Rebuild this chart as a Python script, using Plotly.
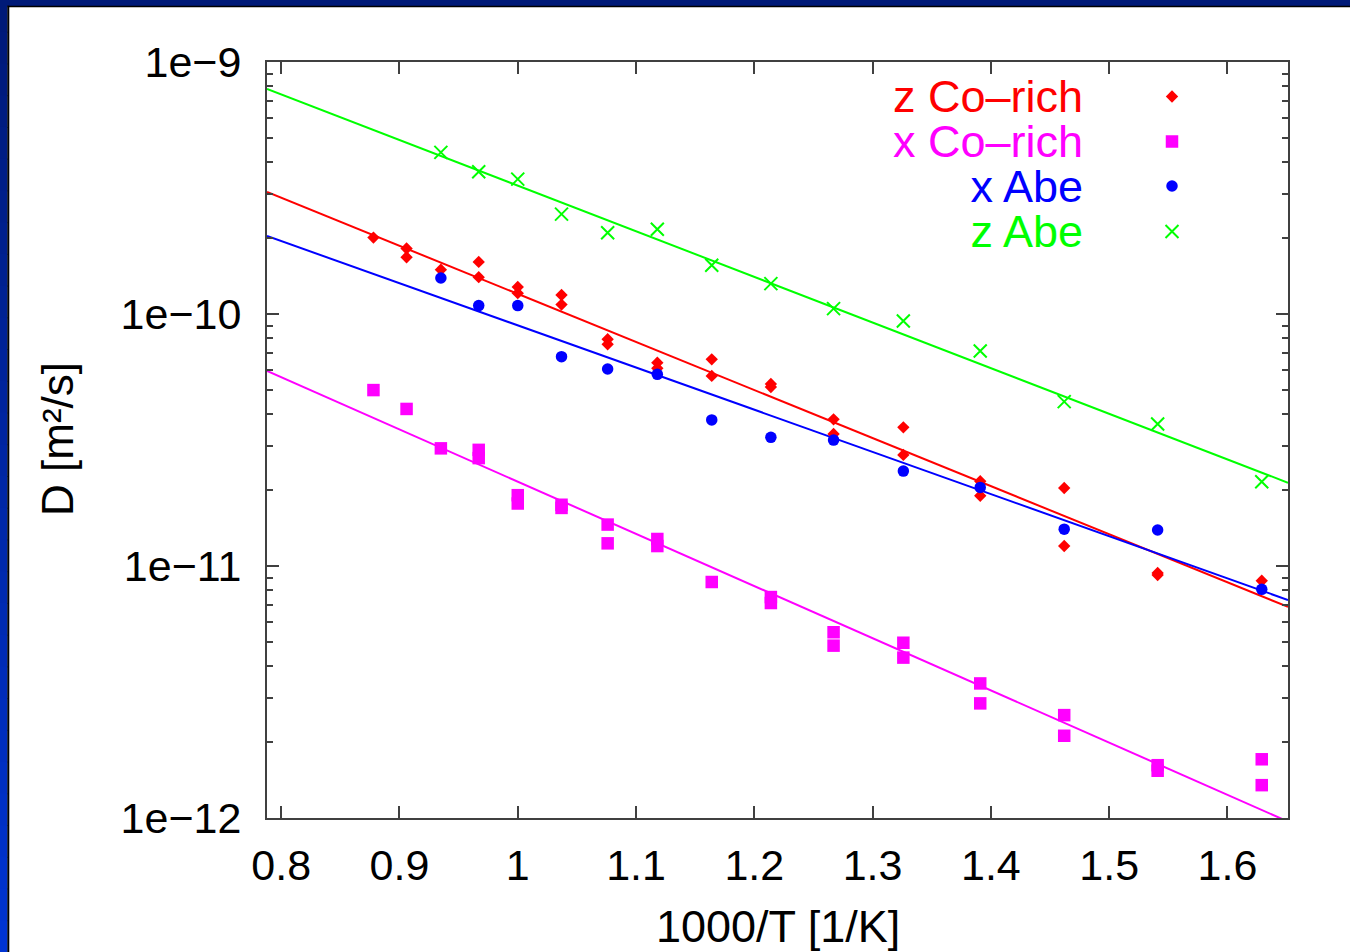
import plotly.graph_objects as go

# ---- measured diffusion coefficients, D in m^2/s versus 1000/T in 1/K ----
z_co_x = [0.878, 0.906, 0.906, 0.935, 0.967, 0.967, 1.0, 1.0, 1.037, 1.037,
          1.076, 1.076, 1.118, 1.118, 1.164, 1.164, 1.214, 1.214, 1.267, 1.267,
          1.326, 1.326, 1.391, 1.391, 1.462, 1.462, 1.541, 1.541, 1.629]
z_co_D = [2.01e-10, 1.82e-10, 1.68e-10, 1.50e-10, 1.61e-10, 1.40e-10, 1.28e-10, 1.21e-10,
          1.19e-10, 1.09e-10, 7.94e-11, 7.58e-11, 6.41e-11, 6.09e-11, 6.61e-11, 5.68e-11,
          5.28e-11, 5.13e-11, 3.82e-11, 3.34e-11, 3.55e-11, 2.76e-11, 2.17e-11, 1.90e-11,
          2.04e-11, 1.20e-11, 9.38e-12, 9.21e-12, 8.74e-12]

x_co_x = [0.878, 0.906, 0.935, 0.967, 0.967, 1.0, 1.0, 1.037, 1.037, 1.076, 1.076,
          1.118, 1.118, 1.164, 1.214, 1.214, 1.267, 1.267, 1.326, 1.326, 1.391, 1.391,
          1.462, 1.462, 1.541, 1.541, 1.629, 1.629]
x_co_D = [4.99e-11, 4.20e-11, 2.93e-11, 2.89e-11, 2.68e-11, 1.91e-11, 1.77e-11, 1.75e-11,
          1.70e-11, 1.46e-11, 1.23e-11, 1.28e-11, 1.20e-11, 8.64e-12, 7.53e-12, 7.13e-12,
          5.46e-12, 4.83e-12, 4.96e-12, 4.33e-12, 3.42e-12, 2.85e-12, 2.56e-12, 2.12e-12,
          1.62e-12, 1.54e-12, 1.71e-12, 1.35e-12]

abe_x = [0.935, 0.967, 1.0, 1.037, 1.076, 1.118, 1.164, 1.214, 1.267, 1.326,
         1.391, 1.462, 1.541, 1.629]
x_abe_D = [1.39e-10, 1.08e-10, 1.08e-10, 6.77e-11, 6.05e-11, 5.76e-11, 3.80e-11,
           3.24e-11, 3.16e-11, 2.38e-11, 2.05e-11, 1.40e-11, 1.39e-11, 8.08e-12]
z_abe_D = [4.38e-10, 3.67e-10, 3.43e-10, 2.49e-10, 2.10e-10, 2.17e-10, 1.56e-10,
           1.32e-10, 1.05e-10, 9.38e-11, 7.13e-11, 4.49e-11, 3.66e-11, 2.16e-11]

# Arrhenius fit lines, evaluated at the two ends of the x range
fit_x = [0.788, 1.6512]
fit_z_co = [3.05e-10, 6.88e-12]
fit_x_co = [5.94e-11, 9.68e-13]
fit_x_abe = [2.04e-10, 7.33e-12]
fit_z_abe = [7.82e-10, 2.14e-11]

series_names = ["z Co\u2013rich", "x Co\u2013rich", "x Abe", "z Abe"]
series_colors = ["#ff0000", "#ff00ff", "#0000ff", "#00ff00"]

x_tickvals = [0.8, 0.9, 1.0, 1.1, 1.2, 1.3, 1.4, 1.5, 1.6]
x_ticktext = ["0.8", "0.9", "1", "1.1", "1.2", "1.3", "1.4", "1.5", "1.6"]
y_tickvals = [1e-12, 1e-11, 1e-10, 1e-9]
y_ticktext = ["1e\u221212", "1e\u221211", "1e\u221210", "1e\u22129"]
y_minorvals = [m * 10.0 ** e for e in (-12, -11, -10) for m in range(2, 10)]

FONT = "Liberation Sans, Arial, Helvetica, sans-serif"
AXIS_COLOR = "#404040"
TICK_SIZE = 43
TEXT_SIZE = 45

# page geometry (pixels)
W, H = 1350, 952
L, R, T, B = 267, 1288, 62, 818


def px(x):
    return (x - L) / (R - L)


def py(y):
    return (B - y) / (B - T)


fig = go.Figure()

# fit lines
for fy, col in zip([fit_z_co, fit_x_co, fit_x_abe, fit_z_abe], series_colors):
    fig.add_trace(go.Scatter(x=fit_x, y=fy, mode="lines",
                             line=dict(color=col, width=2), showlegend=False,
                             hoverinfo="skip"))

marker_styles = [
    dict(symbol="diamond", size=9.5, color=series_colors[0]),
    dict(symbol="square", size=12.5, color=series_colors[1]),
    dict(symbol="circle", size=11.5, color=series_colors[2]),
    dict(symbol="x-thin-open", size=13, color=series_colors[3],
         line=dict(color=series_colors[3], width=2)),
]
point_sets = [(z_co_x, z_co_D), (x_co_x, x_co_D), (abe_x, x_abe_D), (abe_x, z_abe_D)]

for (xs, ys), mk, name in zip(point_sets, marker_styles, series_names):
    fig.add_trace(go.Scatter(x=xs, y=ys, mode="markers", marker=mk, name=name,
                             showlegend=False))

# key samples at the right of the legend labels
key_rows = [96.5, 141.5, 186, 231.5]
key_x = 1172
for mk, ry in zip(marker_styles, key_rows):
    fig.add_trace(go.Scatter(x=[px(key_x)], y=[py(ry)], mode="markers", marker=mk,
                             xaxis="x2", yaxis="y2", showlegend=False,
                             hoverinfo="skip"))

# legend labels: one right-aligned block, rows 45 px apart
legend_lines = [f'<span style="font-size:{TEXT_SIZE}px;color:{c}">{n}</span>'
                for n, c in zip(series_names, series_colors)]
annotations = [dict(x=px(1085), y=py(sum(key_rows) / len(key_rows)),
                    xref="paper", yref="paper", text="<br>".join(legend_lines),
                    showarrow=False, xanchor="right", yanchor="middle",
                    align="right", font=dict(family=FONT, size=34.6, color="black"))]

annotations.append(dict(x=px(778), y=py(926), xref="paper", yref="paper",
                        text="1000/T [1/K]", showarrow=False, xanchor="center",
                        yanchor="middle",
                        font=dict(family=FONT, size=TEXT_SIZE, color="black")))
annotations.append(dict(x=px(57), y=py(439), xref="paper", yref="paper",
                        text="D [m\u00b2/s]", showarrow=False, textangle=-90,
                        xanchor="center", yanchor="middle",
                        font=dict(family=FONT, size=44, color="black")))

# slide frame: navy top band and blue left band with a black edge
shapes = [dict(type="rect", xref="paper", yref="paper", x0=px(0), x1=px(W),
               y0=py(0), y1=py(6), fillcolor="#001a78", line=dict(width=0),
               layer="below")]
n_bands = 30
for i in range(n_bands):
    y0 = i * H / n_bands
    y1 = (i + 1) * H / n_bands
    f = i / (n_bands - 1)
    r_, g_, b_ = 0, int(26 + f * 26), int(120 + f * 90)
    shapes.append(dict(type="rect", xref="paper", yref="paper", x0=px(0), x1=px(7.5),
                       y0=py(y0), y1=py(y1 + 1),
                       fillcolor=f"rgb({r_},{g_},{b_})", line=dict(width=0),
                       layer="below"))
shapes.append(dict(type="rect", xref="paper", yref="paper", x0=px(7.5), x1=px(W),
                   y0=py(5.8), y1=py(7.3), fillcolor="black", line=dict(width=0),
                   layer="below"))
shapes.append(dict(type="rect", xref="paper", yref="paper", x0=px(7.3), x1=px(9.3),
                   y0=py(5.8), y1=py(H), fillcolor="black", line=dict(width=0),
                   layer="below"))

fig.update_layout(
    width=W, height=H,
    margin=dict(l=L, r=W - R, t=T, b=H - B, pad=0),
    paper_bgcolor="white", plot_bgcolor="white",
    font=dict(family=FONT, size=TICK_SIZE, color="black"),
    showlegend=False,
    annotations=annotations,
    shapes=shapes,
    xaxis=dict(
        range=[0.788, 1.6512], tickmode="array", tickvals=x_tickvals,
        ticktext=x_ticktext, ticks="inside", ticklen=12, tickwidth=1.5,
        tickcolor=AXIS_COLOR, showline=True, linecolor=AXIS_COLOR, linewidth=2,
        mirror="ticks", showgrid=False, zeroline=False,
        tickfont=dict(family=FONT, size=TICK_SIZE, color="black"),
        ticklabelstandoff=8,
    ),
    yaxis=dict(
        type="log", range=[-12, -9], tickmode="array", tickvals=y_tickvals,
        ticktext=y_ticktext, ticks="inside", ticklen=12, tickwidth=1.5,
        tickcolor=AXIS_COLOR, showline=True, linecolor=AXIS_COLOR, linewidth=2,
        mirror="ticks", showgrid=False, zeroline=False,
        tickfont=dict(family=FONT, size=TICK_SIZE, color="black"),
        ticklabelstandoff=15,
        minor=dict(tickmode="array", tickvals=y_minorvals, ticks="inside",
                   ticklen=6, tickwidth=1.5, tickcolor=AXIS_COLOR, showgrid=False),
    ),
    xaxis2=dict(overlaying="x", range=[0, 1], visible=False, fixedrange=True),
    yaxis2=dict(overlaying="y", range=[0, 1], visible=False, fixedrange=True),
)

fig.write_html("out.html")
